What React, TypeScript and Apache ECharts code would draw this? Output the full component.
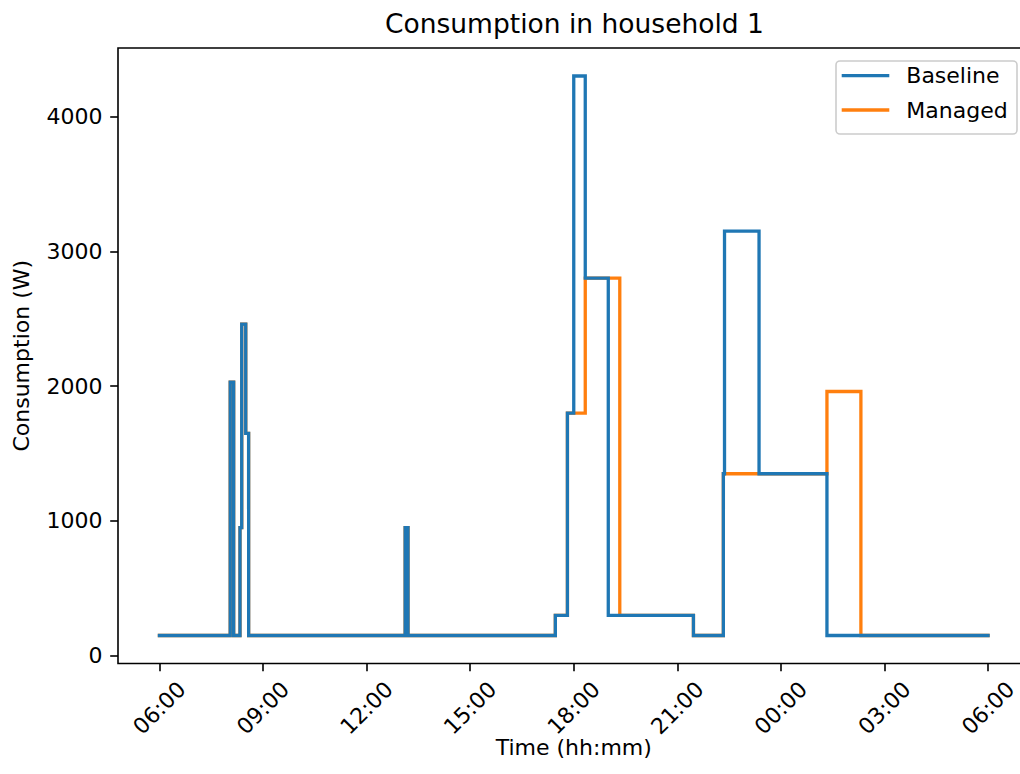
import React, { useEffect, useRef } from "react";
import * as echarts from "echarts";

// minutes since 06:00 at which the consumption changes, and the new value (W)
const baselineTimes = [0, 123, 129, 140, 143, 150, 155, 427, 432, 688, 709, 720, 740, 780, 928, 980, 982, 1042, 1160, 1440];
const baselineValues = [150, 2030, 150, 950, 2460, 1650, 150, 950, 150, 300, 1800, 4300, 2800, 300, 150, 1350, 3150, 1350, 150, 150];
const managedTimes = [0, 123, 129, 140, 143, 150, 155, 427, 432, 688, 709, 740, 800, 928, 980, 1160, 1219, 1440];
const managedValues = [150, 2030, 150, 950, 2460, 1650, 150, 950, 150, 300, 1800, 2800, 300, 150, 1350, 1960, 150, 150];
const xTicks = [0, 180, 360, 540, 720, 900, 1080, 1260, 1440];
const yTicks = [0, 1000, 2000, 3000, 4000];
const seriesNames = ["Baseline", "Managed"];

const fmt = (m: number) => {
  const total = Math.round(m) + 6 * 60;
  const h = Math.floor(total / 60) % 24;
  const mm = total % 60;
  return String(h).padStart(2, "0") + ":" + String(mm).padStart(2, "0");
};

const zip = (t: number[], v: number[]) => t.map((x, i) => [x, v[i]]);

export default function App() {
  const ref = useRef<HTMLDivElement>(null);
  useEffect(() => {
    if (!ref.current) return;
    const chart = echarts.init(ref.current, undefined, { renderer: "svg" });
    const font = "DejaVu Sans";
    chart.setOption({
      animation: false,
      backgroundColor: "#ffffff",
      title: {
        text: "Consumption in household 1",
        left: 380,
        top: 3,
        textStyle: { fontFamily: font, fontSize: 26.5, fontWeight: "normal", color: "#000", lineHeight: 31 },
      },
      grid: {
        left: 118,
        top: 48,
        width: 911.5,
        height: 615.5,
        show: true,
        borderColor: "#000",
        borderWidth: 1.6,
        backgroundColor: "transparent",
      },
      legend: {
        data: seriesNames,
        orient: "vertical",
        left: 841.7,
        top: 62.7,
        padding: 0,
        itemWidth: 47.6,
        itemHeight: 3.3,
        itemGap: 8.3,
        icon: "rect",
        selectedMode: false,
        z: 10,
        textStyle: { fontFamily: font, fontSize: 22, color: "#000", lineHeight: 26, padding: [0, 0, 0, 12] },
      },
      graphic: [
        {
          type: "rect",
          z: 5,
          shape: { x: 836, y: 61, width: 181, height: 73, r: 4 },
          style: { fill: "rgba(255,255,255,0.8)", stroke: "#cccccc", lineWidth: 1.6 },
        },
      ],
      xAxis: {
        type: "value",
        min: -72,
        max: 1512,
        name: "Time (hh:mm)",
        nameLocation: "middle",
        nameGap: 71,
        nameMoveOverlap: false,
        nameTextStyle: { fontFamily: font, fontSize: 22, color: "#000", verticalAlign: "top", lineHeight: 26 },
        splitLine: { show: false },
        axisLine: { show: false, onZero: false },
        axisTick: { show: true, customValues: xTicks, length: 7.8, lineStyle: { color: "#000", width: 1.6 } },
        axisLabel: {
          customValues: xTicks,
          formatter: (v: number) => fmt(v),
          rotate: 45,
          align: "center",
          verticalAlign: "middle",
          margin: 44.5,
          fontFamily: font,
          fontSize: 22,
          color: "#000",
        },
      },
      yAxis: {
        type: "value",
        min: -57.5,
        max: 4507.5,
        name: "Consumption (W)",
        nameLocation: "middle",
        nameGap: 86,
        nameMoveOverlap: false,
        nameTextStyle: { fontFamily: font, fontSize: 22, color: "#000" },
        splitLine: { show: false },
        axisLine: { show: false, onZero: false },
        axisTick: { show: true, customValues: yTicks, length: 7.8, lineStyle: { color: "#000", width: 1.6 } },
        axisLabel: {
          customValues: yTicks,
          formatter: (v: number) => String(v),
          margin: 15.6,
          fontFamily: font,
          fontSize: 22,
          color: "#000",
        },
      },
      series: [
        {
          name: "Managed",
          type: "line",
          step: "end",
          showSymbol: false,
          symbol: "none",
          data: zip(managedTimes, managedValues),
          color: "#ff7f0e",
          lineStyle: { width: 3.3, color: "#ff7f0e", cap: "square", join: "miter" },
          z: 2,
        },
        {
          name: "Baseline",
          type: "line",
          step: "end",
          showSymbol: false,
          symbol: "none",
          data: zip(baselineTimes, baselineValues),
          color: "#1f77b4",
          lineStyle: { width: 3.3, color: "#1f77b4", cap: "square", join: "miter" },
          z: 3,
        },
      ],
    });
    return () => chart.dispose();
  }, []);
  return (
    <div style={{ position: "absolute", left: 0, top: 0, width: 1020, height: 774, overflow: "hidden" }}>
      <div ref={ref} style={{ position: "absolute", left: 0, top: 0, width: 1040, height: 774 }} />
    </div>
  );
}
